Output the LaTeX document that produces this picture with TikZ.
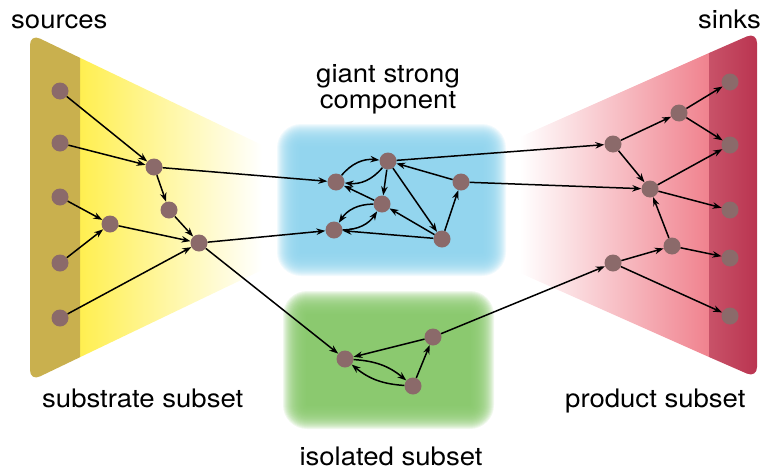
\documentclass[tikz,border=0pt]{standalone}
\usepackage{fontspec}
\setmainfont{TeX Gyre Heros}[FakeStretch=1.08]
\usetikzlibrary{arrows.meta}
\definecolor{nodecol}{RGB}{139,106,106}
\definecolor{bandL}{RGB}{201,176,78}
\definecolor{yel}{RGB}{255,239,80}
\definecolor{bandRa}{RGB}{200,82,104}
\definecolor{bandRb}{RGB}{186,52,80}
\definecolor{pink}{RGB}{240,130,142}
\definecolor{bluereg}{RGB}{142,211,237}
\definecolor{greenreg}{RGB}{134,199,105}
\tikzset{
  vtx/.style={circle, fill=nodecol, minimum size=17pt, inner sep=0pt},
  arr/.style={-{Stealth[length=9pt,width=6.5pt]}, line width=1.5pt},
  lbl/.style={font=\fontsize{25.5}{30}\selectfont, inner sep=0pt, text=black},
}
\begin{document}
\begin{tikzpicture}[x=1pt,y=-1pt]
\useasboundingbox (0,0) rectangle (767,471);
% left panel
\shade[left color=yel, right color=white] (80,57.8) -- (262,145) -- (262,270) -- (80,357.2) -- cycle;
\fill[bandL] (80,207) -- (80,57.8) [rounded corners=11pt] -- (30,33.8) -- (30,381.2) [sharp corners] -- (80,357.2) -- cycle;
% right panel
\shade[left color=white, right color=pink] (520,137) -- (709,53) -- (709,357) -- (520,273) -- cycle;
\shade[left color=bandRa, right color=bandRb] (709,205) -- (709,53) [rounded corners=11pt] -- (757,32) -- (757,378) [sharp corners] -- (709,357) -- cycle;
% fuzzy regions
\foreach \i in {0,...,23} {
  \fill[bluereg, opacity=0.12, rounded corners={(24-\i)*1pt}] (277+\i,124+\i) rectangle (506-\i,276-\i);
  \fill[greenreg, opacity=0.12, rounded corners={(24-\i)*1pt}] (283+\i,291+\i) rectangle (494-\i,429-\i);
}
% labels
\node[lbl, anchor=base west] (tsrc) at (11,28) {sources};
\node[lbl, anchor=base east] (tsnk) at (761,28) {sinks};
\node[lbl, anchor=base] (tg1) at (388,82) {giant strong};
\node[lbl, anchor=base] (tg2) at (388,108) {component};
\node[lbl, anchor=base west] (tsub) at (42,407) {substrate subset};
\node[lbl, anchor=base west] (tprod) at (565,407) {product subset};
\node[lbl, anchor=base] (tiso) at (391,465) {isolated subset};
% left nodes
\node[vtx] (S1) at (60,91) {};
\node[vtx] (S2) at (60,143) {};
\node[vtx] (S3) at (60,197) {};
\node[vtx] (S4) at (60,263) {};
\node[vtx] (S5) at (60,318) {};
\node[vtx] (A) at (154,167) {};
\node[vtx] (B) at (169,210) {};
\node[vtx] (C) at (110,224) {};
\node[vtx] (D) at (199,243) {};
% giant component
\node[vtx] (G1) at (336,182) {};
\node[vtx] (G2) at (388,161) {};
\node[vtx] (G3) at (382,204) {};
\node[vtx] (G4) at (334,230) {};
\node[vtx] (G5) at (461,182) {};
\node[vtx] (G6) at (442,239) {};
% isolated
\node[vtx] (I1) at (345,359) {};
\node[vtx] (I2) at (433,337) {};
\node[vtx] (I3) at (413,386) {};
% right nodes
\node[vtx] (P1) at (613,144) {};
\node[vtx] (P2) at (679,113) {};
\node[vtx] (P3) at (650,189) {};
\node[vtx] (P4) at (613,263) {};
\node[vtx] (P5) at (672,246) {};
\node[vtx] (T1) at (730,82) {};
\node[vtx] (T2) at (730,145) {};
\node[vtx] (T3) at (730,210) {};
\node[vtx] (T4) at (730,258) {};
\node[vtx] (T5) at (730,316) {};
% edges left
\draw[arr] (S1) -- (A);
\draw[arr] (S2) -- (A);
\draw[arr] (A) -- (B);
\draw[arr] (B) -- (D);
\draw[arr] (S3) -- (C);
\draw[arr] (S4) -- (C);
\draw[arr] (C) -- (D);
\draw[arr] (S5) -- (D);
\draw[arr] (A) -- (G1);
\draw[arr] (D) -- (G4);
\draw[arr] (D) -- (I1);
% giant component edges
\draw[arr] (G1) to[bend left=28] (G2);
\draw[arr] (G2) to[bend left=28] (G1);
\draw[arr] (G2) -- (G3);
\draw[arr] (G3) -- (G1);
\draw[arr] (G3) to[bend right=28] (G4);
\draw[arr] (G4) to[bend right=28] (G3);
\draw[arr] (G2) -- (G6);
\draw[arr] (G6) -- (G3);
\draw[arr] (G6) -- (G4);
\draw[arr] (G6) -- (G5);
\draw[arr] (G5) -- (G2);
\draw[arr] (G2) -- (P1);
\draw[arr] (G5) -- (P3);
% isolated edges
\draw[arr] (I2) -- (I1);
\draw[arr] (I1) to[bend left=18] (I3);
\draw[arr] (I3) to[bend left=18] (I1);
\draw[arr] (I3) -- (I2);
\draw[arr] (I2) -- (P4);
% right edges
\draw[arr] (P1) -- (P2);
\draw[arr] (P1) -- (P3);
\draw[arr] (P2) -- (T1);
\draw[arr] (P2) -- (T2);
\draw[arr] (P3) -- (T2);
\draw[arr] (P3) -- (T3);
\draw[arr] (P5) -- (P3);
\draw[arr] (P5) -- (T4);
\draw[arr] (P4) -- (P5);
\draw[arr] (P4) -- (T5);
\end{tikzpicture}
\end{document}
